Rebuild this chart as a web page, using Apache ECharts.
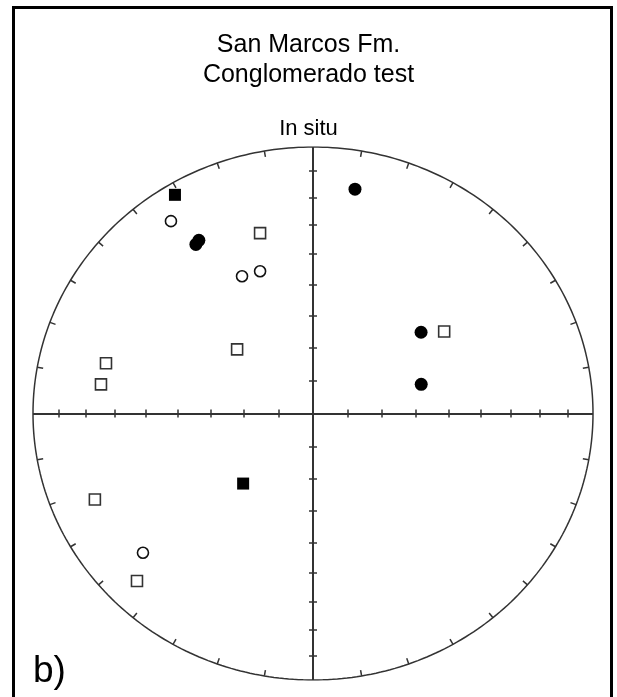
<!DOCTYPE html>
<html>
<head>
<meta charset="utf-8">
<script src="https://cdn.jsdelivr.net/npm/echarts@6/dist/echarts.min.js"></script>
<style>
  html, body { margin: 0; padding: 0; background: #fff; }
  #chart { width: 617px; height: 697px; }
</style>
</head>
<body>
<div id="chart"></div>
<script>
// site directions (declination / inclination, degrees); inc > 0 = lower hemisphere (filled)
const circleDec = [10.1, 51.7, 74.2, 327.9, 326.6, 324.9, 333.8, 340.5, 229.3];
const circleInc = [15.6, 49.3, 57.0, 24.3, 25.0, -12.8, -42.1, -42.8, -21.0];
const squareDec = [329.0, 223.5, 344.4, 56.7, 311.6, 284.3, 278.2, 247.5, 225.0];
const squareInc = [4.8, 60.3, -30.4, -43.3, -60.3, -24.7, -24.5, -16.8, -12.1];

// net ticks
const incTicks = [10, 20, 30, 40, 50, 60, 70, 80];
const azTicks = [10, 20, 30, 40, 50, 60, 70, 80, 100, 110, 120, 130, 140, 150, 160, 170,
  190, 200, 210, 220, 230, 240, 250, 260, 280, 290, 300, 310, 320, 330, 340, 350];

const GRID = { left: 33, top: 147, width: 560, height: 533 };
const pxX = GRID.width / 2, pxY = GRID.height / 2;
const rad = Math.PI / 180;

// Schmidt equal-area projection
function project(dec, inc) {
  const r = Math.SQRT2 * Math.sin((90 - Math.abs(inc)) / 2 * rad);
  return [r * Math.sin(dec * rad), r * Math.cos(dec * rad)];
}

function pick(decs, incs, lower) {
  const out = [];
  decs.forEach((d, i) => {
    if ((incs[i] >= 0) === lower) out.push(project(d, incs[i]));
  });
  return out;
}

// primitive circle
const outline = [];
for (let a = 0; a <= 360; a++) outline.push(project(a, 0));

const axisSegs = [
  { coords: [project(270, 0), project(90, 0)] },
  { coords: [project(180, 0), project(0, 0)] }
];

const tickSegs = [];
incTicks.forEach(inc => {
  [0, 180].forEach(d => {
    const p = project(d, inc);
    tickSegs.push({ coords: [[p[0] - 4 / pxX, p[1]], [p[0] + 4 / pxX, p[1]]] });
  });
  [90, 270].forEach(d => {
    const p = project(d, inc);
    tickSegs.push({ coords: [[p[0], p[1] - 4 / pxY], [p[0], p[1] + 4 / pxY]] });
  });
});
azTicks.forEach(a => {
  const p = project(a, 0);
  tickSegs.push({ coords: [p, [p[0] * (1 - 6 / pxX), p[1] * (1 - 6 / pxY)]] });
});

const chart = echarts.init(document.getElementById('chart'));

const option = {
  animation: false,
  backgroundColor: '#fff',
  title: [
    {
      text: 'San Marcos Fm.\nConglomerado test',
      left: 'center',
      top: 25,
      textStyle: { fontFamily: 'Liberation Sans, Arial, sans-serif', fontSize: 25, fontWeight: 'normal', color: '#000', lineHeight: 30 }
    },
    {
      text: 'In situ',
      left: 'center',
      top: 113,
      textStyle: { fontFamily: 'Liberation Sans, Arial, sans-serif', fontSize: 22, fontWeight: 'normal', color: '#000' }
    },
    {
      text: 'b)',
      left: 28,
      top: 648,
      textStyle: { fontFamily: 'Liberation Sans, Arial, sans-serif', fontSize: 37, fontWeight: 'normal', color: '#000' }
    }
  ],
  graphic: [
    {
      type: 'rect',
      shape: { x: 13.5, y: 7.5, width: 598, height: 720 },
      style: { fill: 'none', stroke: '#000', lineWidth: 3 },
      silent: true
    }
  ],
  grid: GRID,
  xAxis: { type: 'value', min: -1, max: 1, show: false },
  yAxis: { type: 'value', min: -1, max: 1, show: false },
  series: [
    {
      type: 'line',
      data: outline,
      symbol: 'none',
      lineStyle: { color: '#333', width: 1.5 },
      silent: true
    },
    {
      type: 'lines',
      coordinateSystem: 'cartesian2d',
      data: axisSegs,
      lineStyle: { color: '#333', width: 2, opacity: 1 },
      silent: true
    },
    {
      type: 'lines',
      coordinateSystem: 'cartesian2d',
      data: tickSegs,
      lineStyle: { color: '#333', width: 1.5, opacity: 1 },
      silent: true
    },
    {
      name: 'circles lower',
      type: 'scatter',
      data: pick(circleDec, circleInc, true),
      symbol: 'circle',
      symbolSize: 13,
      itemStyle: { color: '#000', opacity: 1 }
    },
    {
      name: 'circles upper',
      type: 'scatter',
      data: pick(circleDec, circleInc, false),
      symbol: 'circle',
      symbolSize: 11,
      itemStyle: { color: '#fff', borderColor: '#111', borderWidth: 1.6, opacity: 1 }
    },
    {
      name: 'squares lower',
      type: 'scatter',
      data: pick(squareDec, squareInc, true),
      symbol: 'rect',
      symbolSize: 12,
      itemStyle: { color: '#000', opacity: 1 }
    },
    {
      name: 'squares upper',
      type: 'scatter',
      data: pick(squareDec, squareInc, false),
      symbol: 'rect',
      symbolSize: 11,
      itemStyle: { color: '#fff', borderColor: '#333', borderWidth: 1.6, opacity: 1 }
    }
  ]
};

chart.setOption(option);
</script>
</body>
</html>
